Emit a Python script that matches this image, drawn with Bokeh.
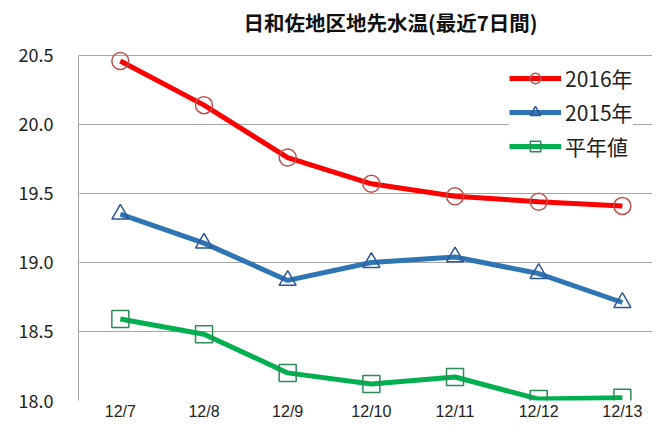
from bokeh.plotting import figure
from bokeh.models import Range1d, FixedTicker, Legend, LegendItem
from bokeh.embed import file_html
from bokeh.resources import INLINE

dates = ["12/7", "12/8", "12/9", "12/10", "12/11", "12/12", "12/13"]
y2016 = [20.46, 20.14, 19.76, 19.57, 19.48, 19.44, 19.41]
y2015 = [19.35, 19.14, 18.87, 19.00, 19.04, 18.92, 18.71]
normal = [18.59, 18.48, 18.20, 18.12, 18.17, 18.01, 18.02]
y_ticks = [18.0, 18.5, 19.0, 19.5, 20.0, 20.5]

xs = list(range(len(dates)))
FONT = "Noto Sans CJK JP"
TICK_FONT = "Liberation Sans"

p = figure(width=652, height=425, output_backend="svg", toolbar_location=None,
           x_range=Range1d(-0.5, 6.36), y_range=Range1d(18.0, 20.601),
           min_border_left=78, min_border_right=0, min_border_top=40, min_border_bottom=25,
           title="日和佐地区地先水温(最近7日間)")
p.outline_line_color = None
p.background_fill_color = "white"
p.border_fill_color = "white"

p.title.align = "left"
p.title.offset = 165
p.title.standoff = 9
p.title.text_font = FONT
p.title.text_font_size = "20.5px"
p.title.text_font_style = "bold"
p.title.text_color = "#111111"

p.xaxis.ticker = FixedTicker(ticks=xs)
p.xaxis.major_label_overrides = {i: d for i, d in enumerate(dates)}
p.xaxis.axis_line_color = None
p.xaxis.major_tick_line_color = None
p.xaxis.minor_tick_line_color = None
p.xaxis.major_tick_out = 0
p.xaxis.major_tick_in = 0
p.xaxis.major_label_standoff = 2
p.xaxis.major_label_text_font = TICK_FONT
p.xaxis.major_label_text_font_size = "16px"
p.xaxis.major_label_text_color = "#222222"

p.yaxis.ticker = FixedTicker(ticks=y_ticks)
p.yaxis.bounds = (y_ticks[0], y_ticks[-1])
p.yaxis.major_label_overrides = {t: f"{t:.1f}" for t in y_ticks}
p.yaxis.axis_line_color = "#a6a6a6"
p.yaxis.major_tick_line_color = None
p.yaxis.minor_tick_line_color = None
p.yaxis.major_tick_out = 0
p.yaxis.major_tick_in = 0
p.yaxis.major_label_standoff = 25
p.yaxis.major_label_text_font = FONT
p.yaxis.major_label_text_font_size = "18px"
p.yaxis.major_label_text_color = "#222222"

p.xgrid.grid_line_color = None
p.ygrid.grid_line_color = "#a6a6a6"
p.ygrid.grid_line_width = 1.2

series = [
    ("2016年", y2016, "#ff0000", "#c0504d", "circle"),
    ("2015年", y2015, "#2e75b6", "#2f5597", "triangle"),
    ("平年値", normal, "#00b050", "#2e8b57", "square"),
]
items = []
for name, ys, lc, mc, mk in series:
    r1 = p.line(xs, ys, line_color=lc, line_width=5)
    r2 = p.scatter(xs, ys, marker=mk, size=17, fill_color=None,
                   line_color=mc, line_width=1.5)
    items.append(LegendItem(label=name, renderers=[r1, r2]))

legend = Legend(items=items, location=(431, 239))
legend.margin = 0
legend.padding = 8
legend.border_line_color = None
legend.background_fill_color = "white"
legend.background_fill_alpha = 1
legend.glyph_width = 52
legend.glyph_height = 26
legend.label_height = 26
legend.spacing = 4
legend.label_standoff = 4
legend.label_text_font = FONT
legend.label_text_font_size = "21px"
legend.label_text_color = "#222222"
p.add_layout(legend, "center")

open("out.html", "w").write(file_html(p, INLINE))
